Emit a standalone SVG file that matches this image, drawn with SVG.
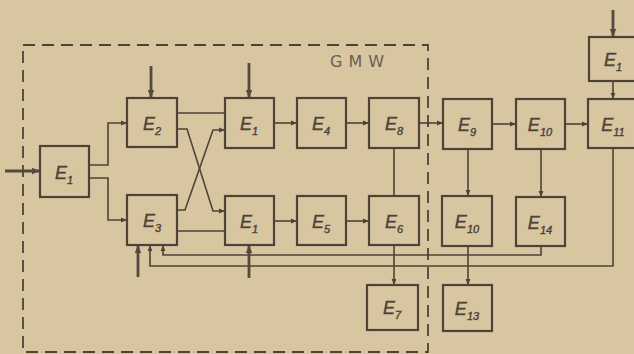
<svg xmlns="http://www.w3.org/2000/svg" width="634" height="354" viewBox="0 0 634 354">
<style>
.bg{fill:#d8c6a1}
.box{fill:#d8c6a1;stroke:#4d4339;stroke-width:2.2}
.ln{fill:none;stroke:#4d4339;stroke-width:1.6}
.thick{fill:none;stroke:#54493e;stroke-width:2.8}
.lbl{font-family:"Liberation Sans",Arial,sans-serif;font-style:italic;font-size:18px;fill:#4d4339;text-anchor:middle;stroke:#4d4339;stroke-width:0.4}
.sub{font-size:11px}
.gmw{font-family:"DejaVu Sans","Liberation Sans",sans-serif;font-size:16px;fill:#6a5e50;letter-spacing:6px}
.dash{fill:none;stroke:#4d4339;stroke-width:1.8;stroke-dasharray:12 7}
</style>
<defs>
<marker id="ah" viewBox="0 0 10 10" refX="10" refY="5" markerWidth="6" markerHeight="6" markerUnits="userSpaceOnUse" orient="auto">
<path d="M0 1 L10 5 L0 9 Z" fill="#4d4339"/>
</marker>
<marker id="ahb" viewBox="0 0 10 10" refX="10" refY="5" markerWidth="8" markerHeight="8" markerUnits="userSpaceOnUse" orient="auto">
<path d="M0 1 L10 5 L0 9 Z" fill="#54493e"/>
</marker>
</defs>
<rect class="bg" x="0" y="0" width="634" height="354"/>
<g id="gmw-boundary">
<rect class="dash" x="23" y="45" width="405" height="307"/>
<text class="gmw" x="330" y="67">GMW</text>
</g>
<g id="connectors">
<path class="thick" d="M5 171 H40" marker-end="url(#ahb)"/>
<path class="ln" d="M89 165 H108 V123 H127" marker-end="url(#ah)"/>
<path class="ln" d="M89 178 H108 V220 H127" marker-end="url(#ah)"/>
<path class="thick" d="M151 66 V98" marker-end="url(#ahb)"/>
<path class="thick" d="M249 63 V98" marker-end="url(#ahb)"/>
<path class="ln" d="M177 113 H225"/>
<path class="ln" d="M177 129 H187 L213 211 H225" marker-end="url(#ah)"/>
<path class="ln" d="M177 210 H185 L213 130 H225" marker-end="url(#ah)"/>
<path class="ln" d="M177 231 H225"/>
<path class="ln" d="M274 123 H297" marker-end="url(#ah)"/>
<path class="ln" d="M346 123 H369" marker-end="url(#ah)"/>
<path class="ln" d="M419 123 H443" marker-end="url(#ah)"/>
<path class="ln" d="M492 124 H516" marker-end="url(#ah)"/>
<path class="ln" d="M565 124 H588" marker-end="url(#ah)"/>
<path class="ln" d="M613 81 V99" marker-end="url(#ah)"/>
<path class="thick" d="M613 10 V37" marker-end="url(#ahb)"/>
<path class="ln" d="M394 196 V148"/>
<path class="ln" d="M274 221 H297" marker-end="url(#ah)"/>
<path class="ln" d="M346 221 H369" marker-end="url(#ah)"/>
<path class="ln" d="M394 245 V285" marker-end="url(#ah)"/>
<path class="ln" d="M468 149 V196" marker-end="url(#ah)"/>
<path class="ln" d="M541 149 V197" marker-end="url(#ah)"/>
<path class="ln" d="M468 246 V285" marker-end="url(#ah)"/>
<path class="ln" d="M541 246 V255 H163 V245" marker-end="url(#ah)"/>
<path class="ln" d="M613 148 V266 H150 V245" marker-end="url(#ah)"/>
<path class="thick" d="M138 277 V245" marker-end="url(#ahb)"/>
<path class="thick" d="M249 278 V245" marker-end="url(#ahb)"/>
</g>
<g id="E1-in"><rect class="box" x="40" y="146" width="49" height="51"/><text class="lbl" x="64" y="179">E<tspan class="sub" dy="5">1</tspan></text></g>
<g id="E2"><rect class="box" x="127" y="98" width="50" height="49"/><text class="lbl" x="152" y="130">E<tspan class="sub" dy="5">2</tspan></text></g>
<g id="E3"><rect class="box" x="127" y="195" width="50" height="50"/><text class="lbl" x="152" y="227">E<tspan class="sub" dy="5">3</tspan></text></g>
<g id="E1-top"><rect class="box" x="225" y="98" width="49" height="50"/><text class="lbl" x="249" y="130">E<tspan class="sub" dy="5">1</tspan></text></g>
<g id="E4"><rect class="box" x="297" y="98" width="49" height="50"/><text class="lbl" x="321" y="130">E<tspan class="sub" dy="5">4</tspan></text></g>
<g id="E8"><rect class="box" x="369" y="98" width="50" height="50"/><text class="lbl" x="394" y="130">E<tspan class="sub" dy="5">8</tspan></text></g>
<g id="E1-bot"><rect class="box" x="225" y="196" width="49" height="49"/><text class="lbl" x="249" y="228">E<tspan class="sub" dy="5">1</tspan></text></g>
<g id="E5"><rect class="box" x="297" y="196" width="49" height="49"/><text class="lbl" x="321" y="228">E<tspan class="sub" dy="5">5</tspan></text></g>
<g id="E6"><rect class="box" x="369" y="196" width="50" height="49"/><text class="lbl" x="394" y="228">E<tspan class="sub" dy="5">6</tspan></text></g>
<g id="E7"><rect class="box" x="367" y="285" width="51" height="45"/><text class="lbl" x="392" y="314">E<tspan class="sub" dy="5">7</tspan></text></g>
<g id="E9"><rect class="box" x="443" y="99" width="49" height="50"/><text class="lbl" x="467" y="131">E<tspan class="sub" dy="5">9</tspan></text></g>
<g id="E10-top"><rect class="box" x="516" y="99" width="49" height="50"/><text class="lbl" x="540" y="131">E<tspan class="sub" dy="5">10</tspan></text></g>
<g id="E11"><rect class="box" x="588" y="99" width="51" height="49"/><text class="lbl" x="613" y="131">E<tspan class="sub" dy="5">11</tspan></text></g>
<g id="E1-right"><rect class="box" x="589" y="37" width="50" height="44"/><text class="lbl" x="613" y="66">E<tspan class="sub" dy="5">1</tspan></text></g>
<g id="E10-bot"><rect class="box" x="442" y="196" width="50" height="50"/><text class="lbl" x="467" y="228">E<tspan class="sub" dy="5">10</tspan></text></g>
<g id="E14"><rect class="box" x="516" y="197" width="49" height="49"/><text class="lbl" x="540" y="229">E<tspan class="sub" dy="5">14</tspan></text></g>
<g id="E13"><rect class="box" x="443" y="285" width="49" height="46"/><text class="lbl" x="467" y="315">E<tspan class="sub" dy="5">13</tspan></text></g>
</svg>
